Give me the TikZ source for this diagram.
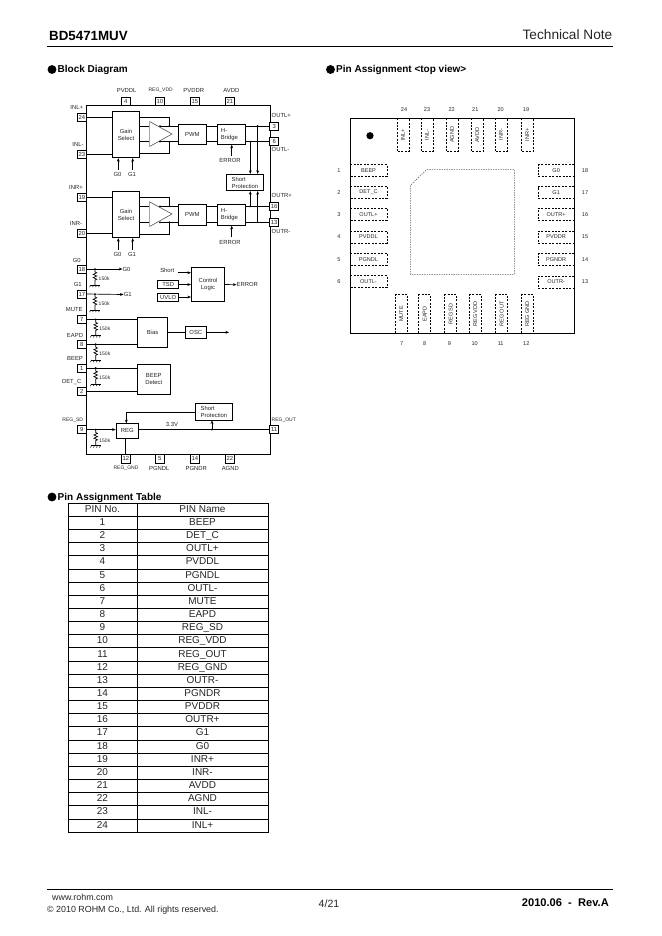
\documentclass[tikz,border=0pt]{standalone}
\usepackage{fontspec}
\setmainfont{Liberation Sans}
\usetikzlibrary{arrows.meta,calc}
\tikzset{
  every node/.style={font=\fontsize{5.3}{6.2}\selectfont,text=black!85,inner sep=0pt},
  wire/.style={line width=.6pt,black},
  arr/.style={wire,-{Stealth[length=3.2pt,width=2.6pt]}},
  dotm/.style={circle,fill=black,minimum size=1.8pt,inner sep=0pt},
  box/.style={draw=black,line width=.7pt,align=center,fill=white},
  pinbox/.style={draw=black,line width=.7pt,minimum width=8pt,minimum height=7.4pt,fill=white},
  tiny/.style={font=\fontsize{4.5}{5.4}\selectfont},
  head/.style={font=\fontsize{9}{11}\selectfont\bfseries,anchor=west,text=black},
  bull/.style={circle,fill=black,minimum size=8pt},
  cell/.style={draw=black,line width=.55pt,font=\fontsize{9}{10}\selectfont,text=black!85,minimum height=11.85pt,text height=6.5pt,text depth=1.7pt},
  pad/.style={minimum size=0pt,font=\fontsize{5}{6}\selectfont},
  edge/.style={line width=.7pt,black,dash pattern=on 1.8pt off 1.3pt},
  num/.style={font=\fontsize{5}{6}\selectfont},
}
\newcommand\resgnd[2]{% start coordinate, label y offset
  \draw[wire] (#1) -- ++(0,3) -- ++(1.8,.8) -- ++(-3.6,1.6) -- ++(3.6,1.6) -- ++(-3.6,1.6) -- ++(3.6,1.6) -- ++(-1.8,.8) -- ++(0,5) coordinate (#1g);
  \draw[wire] ($(#1g)+(-5,0)$) -- ($(#1g)+(5,0)$);
  \foreach \d in {-4,-1,2,5} \draw[line width=.4pt] ($(#1g)+(\d,0)$) -- ++(-1.5,2);
  \node[tiny,anchor=west] (#1k) at ($(#1)+(3.5,#2)$) {150k};
}
\newcommand\dotat[1]{\node[dotm] at (#1) {};}
\begin{document}
\begin{tikzpicture}[x=.9pt,y=-.9pt]
\useasboundingbox (0,0) rectangle (662,936);
\fill[white] (0,0) rectangle (662,936);
% header
\node[font=\fontsize{12}{14}\selectfont\bfseries,anchor=west,text=black] (title) at (49,35.5) {BD5471MUV};
\node[font=\fontsize{12.3}{14}\selectfont,anchor=east,text=black!85] (tn) at (612.5,35) {Technical Note};
\coordinate (hl) at (47,46.5); \coordinate (hr) at (613,46.5);
\draw[line width=1pt] (hl) -- (hr);
\node[bull] (b1) at (52,69.5) {}; \node[head] (h1) at (57.5,70) {Block Diagram};
\node[bull] (b2) at (330.5,69.5) {}; \node[head] (h2) at (336,69.8) {Pin Assignment <top view>};
\node[bull] (b3) at (52,497) {}; \node[head] (h3) at (57.5,498) {Pin Assignment Table};
% main frame
\node[draw=black,line width=.8pt,minimum width=165pt,minimum height=314.1pt,anchor=north west] (frame) at (86.3,105.3) {};
% top pins
\foreach \n/\x/\t/\lx in {4/125.8/PVDDL/126.7,15/194.8/PVDDR/193.7,21/229.8/AVDD/231.3}{
  \node[pinbox] (p\n) at (\x,101) {\n};
  \node (l\n) at (\lx,90) {\t};
}
\node[pinbox] (p10) at (159.8,101) {10};
\node[tiny] (l10) at (160.7,90.5) {REG\_VDD};
% bottom pins
\foreach \n/\x/\t/\lx in {5/159.8/PGNDL/159.3,14/194.8/PGNDR/196.3,22/229.8/AGND/230.3}{
  \node[pinbox] (p\n) at (\x,458.8) {\n};
  \node (l\n) at (\lx,468) {\t};
}
\node[pinbox] (p12) at (125.8,458.8) {12};
\node[tiny] (l12) at (126,468) {REG\_GND};
% left pins
\foreach \n/\y/\t/\lx/\ly in {24/117/INL+/76.7/107.3,23/154.5/INL-/78/144.3,19/197.4/INR+/76/187.3,20/233.7/INR-/76/223.3,18/269/G0/76.7/260,17/294/G1/77.7/284.3,7/319.5/MUTE/74.3/309.7,8/344.2/EAPD/75/335.7,1/368/BEEP/75/358.3,2/391.3/DET\_C/71.7/381.7}{
  \node[pinbox] (p\n) at (81.8,\y) {\n};
  \node (l\n) at (\lx,\ly) {\t};
}
\node[pinbox] (p9) at (81.8,429.6) {9};
\node[tiny] (l9) at (72.7,420.7) {REG\_SD};
% right pins
\foreach \n/\y/\t/\ly in {3/126/OUTL+/115.7,6/141.7/OUTL-/149.3,16/206.4/OUTR+/195.7,13/222.2/OUTR-/231.7}{
  \node[pinbox] (p\n) at (274.2,\y) {\n};
  \node[anchor=west] (l\n) at (271.5,\ly) {\t};
}
\node[pinbox] (p11) at (274.2,429.6) {11};
\node[tiny,anchor=west] (l11) at (271.5,420.7) {REG\_OUT};
% blocks upper channel
\node[box,minimum width=24.6pt,minimum height=41.8pt] (gainL) at (126,134.5) {Gain\\Select};
\node[box,minimum width=25.2pt,minimum height=18.3pt] (pwmL) at (192.3,134.2) {PWM};
\node[box,minimum width=25.5pt,minimum height=18.3pt,align=left,text width=19pt] (hbL) at (231.5,134.2) {H-\\Bridge};
\node[box,minimum width=24.6pt,minimum height=41.8pt] (gainR) at (126,214.5) {Gain\\Select};
\node[box,minimum width=25.2pt,minimum height=18.9pt] (pwmR) at (192.3,214.8) {PWM};
\node[box,minimum width=25.5pt,minimum height=18.9pt,align=left,text width=19pt] (hbR) at (231.5,214.8) {H-\\Bridge};
\node[box,minimum width=33.6pt,minimum height=14.8pt,align=left] (spA) at (245,182.5) {Short\\Protection};
% pin wires
\draw[wire] (p24.east) -- (gainL.west |- p24.east);
\draw[wire] (p23.east) -- (gainL.west |- p23.east);
\draw[wire] (p19.east) -- (gainR.west |- p19.east);
\draw[wire] (p20.east) -- (gainR.west |- p20.east);
% triangles
\coordinate (tLa) at (149.3,121.3); \coordinate (tLb) at (149.3,146.7); \coordinate (tLc) at (172,134);
\coordinate (tRa) at (149.3,201.7); \coordinate (tRb) at (149.3,226.7); \coordinate (tRc) at (172,214);
\draw[line width=.5pt,black!70] (tLa) -- (tLc) -- (tLb);
\draw[line width=.5pt,black!70] (tRa) -- (tRc) -- (tRb);
\draw[line width=1pt,black!35] (tLa) -- (tLb) (tRa) -- (tRb);
% channel wires
\foreach \g/\p/\h/\ya/\yb/\yt/\yu in {gainL/pwmL/hbL/126/141.7/117.6/153,gainR/pwmR/hbR/206.3/222.3/197.3/234}{
  \draw[wire] (\g.east |- 0,\ya) -- (149.3,\ya);
  \draw[wire] (\g.east |- 0,\yb) -- (149.3,\yb);
  \draw[wire] (160,\ya) -- (\p.west |- 0,\ya);
  \draw[wire] (160,\yb) -- (\p.west |- 0,\yb);
  \draw[wire] (\g.east |- 0,\yt) -| (169.4,\ya);
  \draw[wire] (\g.east |- 0,\yu) -| (169.4,\yb);
  \draw[wire] (\p.east |- 0,\ya) -- (\h.west |- 0,\ya);
  \draw[wire] (\p.east |- 0,\yb) -- (\h.west |- 0,\yb);
  \dotat{169.4,\ya} \dotat{169.4,\yb} \dotat{160,\ya} \dotat{160,\yb}
}
% outputs
\draw[wire] (hbL.east |- p3.west) -- (p3.west);
\draw[wire] (hbL.east |- p6.west) -- (p6.west);
\draw[wire] (hbR.east |- p16.west) -- (p16.west);
\draw[wire] (hbR.east |- p13.west) -- (p13.west);
\coordinate (sa) at (250.3,141.7); \coordinate (sb) at (257.7,126);
\coordinate (sc) at (250.3,206.4); \coordinate (sd) at (257.7,222.2);
\dotat{sa} \dotat{sb} \dotat{sc} \dotat{sd}
\draw[arr] (sa) -- (sa |- spA.north);
\draw[arr] (sb) -- (sb |- spA.north);
\draw[arr] (sc) -- (sc |- spA.south);
\draw[arr] (sd) -- (sd |- spA.south);
% G0 G1 under gain
\node (g0a) at (117.5,174.3) {G0}; \node (g1a) at (132,174.3) {G1};
\node (g0b) at (117.5,254.5) {G0}; \node (g1b) at (132,254.5) {G1};
\draw[arr] (118.3,170) -- (118.3,0 |- gainL.south);
\draw[arr] (132.7,170) -- (132.7,0 |- gainL.south);
\draw[arr] (118.3,250) -- (118.3,0 |- gainR.south);
\draw[arr] (132.7,250) -- (132.7,0 |- gainR.south);
% ERROR under bridges
\node (e1) at (230,160.3) {ERROR}; \node (e2) at (230,242.3) {ERROR};
\draw[arr] (231.7,155.5) -- (231.7,0 |- hbL.south);
\draw[arr] (231.7,237) -- (231.7,0 |- hbR.south);
% G0/G1 logic
\coordinate (j18) at (95,269); \coordinate (j17) at (95,294);
\coordinate (j7) at (95.7,319.4); \coordinate (j8) at (95.7,344.2);
\coordinate (j1) at (95.7,368); \coordinate (j9) at (95.7,429.6);
\node (tg0) at (126.5,269) {G0}; \node (tg1) at (127.7,294.5) {G1};
\draw[arr] (p18.east) -- (tg0.west);
\draw[arr] (p17.east) -- (tg1.west);
\dotat{j18} \dotat{j17} \dotat{j7} \dotat{j8} \dotat{j1} \dotat{j9}
\resgnd{j18}{9.5}
\resgnd{j17}{9.5}
\resgnd{j7}{9.5}
\resgnd{j8}{10}
\resgnd{j1}{10}
\resgnd{j9}{11}
% control logic
\node[box,minimum width=30pt,minimum height=31pt] (ctl) at (208,284.5) {Control\\Logic};
\node (sh) at (167.3,270.7) {Short};
\node[box,minimum width=18.9pt,minimum height=7.4pt] (tsd) at (168.2,284.5) {TSD};
\node[box,minimum width=18.9pt,minimum height=7.2pt] (uvlo) at (168.2,297) {UVLO};
\draw[arr] (178.3,272.7) -- (ctl.west |- 0,272.7);
\draw[arr] (tsd.east) -- (ctl.west |- tsd.east);
\draw[arr] (uvlo.east) -- (ctl.west |- uvlo.east);
\node[anchor=west] (err) at (236.5,284.7) {ERROR};
\draw[arr] (ctl.east) -- (err.west);
% bias, osc, beep
\node[box,minimum width=27.4pt,minimum height=27pt] (bias) at (152.5,332.3) {Bias};
\node[box,minimum width=18.9pt,minimum height=10.8pt] (osc) at (195.8,332.3) {OSC};
\coordinate (oe) at (229,332.3);
\draw[wire] (bias.east) -- (osc.west);
\draw[arr] (osc.east) -- (oe);
\node[box,minimum width=29.7pt,minimum height=27pt] (bd) at (153.8,379.3) {BEEP\\Detect};
\draw[wire] (p7.east) -- (bias.west |- p7.east);
\draw[wire] (p8.east) -- (bias.west |- p8.east);
\draw[wire] (p1.east) -- (bd.west |- p1.east);
\draw[wire] (p2.east) -- (bd.west |- p2.east);
% REG
\node[box,minimum width=20.1pt,minimum height=13.5pt] (reg) at (127.2,430.8) {REG};
\node[box,minimum width=33.6pt,minimum height=15pt,align=left] (spB) at (214,411.7) {Short\\Protection};
\draw[arr] (p9.east) -- (reg.west |- p9.east);
\draw[wire] (reg.east |- p11.west) -- (p11.west);
\node (v33) at (172,424.5) {3.3V};
\coordinate (jr) at (212,429.6); \dotat{jr}
\draw[arr] (jr) -- (jr |- spB.south);
\draw[arr] (spB.west |- 0,412.7) -| (126.3,423.3);
\draw[wire] (reg.south -| p12.north) -- (p12.north);
% pin assignment
\node[draw=black,line width=.8pt,minimum width=201.3pt,minimum height=193.6pt,anchor=north west] (pkg) at (350.3,118.2) {};
\node[circle,fill=black,minimum size=6.5pt] (pin1) at (370,135.7) {};
\coordinate (ep1) at (427,169.3); \coordinate (ep2) at (514.3,169.3); \coordinate (ep3) at (514.3,274.3); \coordinate (ep4) at (410.3,274.3); \coordinate (ep5) at (410.3,185.3);
\draw[line width=.5pt,black!65,dash pattern=on 1.2pt off 1pt] (ep1) -- (ep2) -- (ep3) -- (ep4) -- (ep5) -- cycle;
\foreach \n/\y/\t in {1/170.7/BEEP,2/192.3/DET\_C,3/214.3/OUTL+,4/237/PVDDL,5/259.3/PGNDL,6/281.7/OUTL-}{
  \node[pad,minimum width=32.8pt,minimum height=10.2pt] (a\n) at (368.5,\y) {\t};
  \draw[edge] (a\n.north west) -- (a\n.north east) -- (a\n.south east) -- (a\n.south west);
  \node[num] (an\n) at (339,\y) {\n};
}
\foreach \n/\y/\t in {18/170.7/G0,17/192.6/G1,16/214.3/OUTR+,15/237/PVDDR,14/259.7/PGNDR,13/282/OUTR-}{
  \node[pad,minimum width=32.1pt,minimum height=10.2pt] (a\n) at (556.15,\y) {\t};
  \draw[edge] (a\n.north east) -- (a\n.north west) -- (a\n.south west) -- (a\n.south east);
  \node[num] (an\n) at (585,\y) {\n};
}
\foreach \n/\x/\lx/\t in {24/403/404/INL+,23/427/427/INL-,22/452/451.7/AGND,21/477.3/475.3/AVDD,20/501/500.7/INR-,19/527.3/526/INR+}{
  \node[pad,minimum width=10.5pt,minimum height=29.7pt] (a\n) at (\x,134.8) {\rotatebox{90}{\t}};
  \draw[edge] (a\n.north west) -- (a\n.south west) -- (a\n.south east) -- (a\n.north east);
  \node[num] (an\n) at (\lx,109.7) {\n};
}
\foreach \n/\x/\lx/\t in {7/401.3/401.7/MUTE,8/424.7/424.7/EAPD,9/450.7/449.3/REG SD,10/475.3/474.7/REG VDD,11/501.7/500.7/REG OUT,12/527.3/526.3/REG GND}{
  \node[pad,minimum width=10.5pt,minimum height=34.2pt] (a\n) at (\x,314) {\rotatebox{90}{\t}};
  \draw[edge] (a\n.south west) -- (a\n.north west) -- (a\n.north east) -- (a\n.south east);
  \node[num] (an\n) at (\lx,343.3) {\n};
}
% table
\node[cell,minimum width=62.1pt,anchor=center] (th1) at (102.5,509.6) {PIN No.};
\node[cell,minimum width=117.9pt,anchor=center] (th2) at (202.5,509.6) {PIN Name};
\foreach \n/\t [evaluate=\n as \yy using 509.6+13.16*\n] in {1/BEEP,2/DET\_C,3/OUTL+,4/PVDDL,5/PGNDL,6/OUTL-,7/MUTE,8/EAPD,9/REG\_SD,10/REG\_VDD,11/REG\_OUT,12/REG\_GND,13/OUTR-,14/PGNDR,15/PVDDR,16/OUTR+,17/G1,18/G0,19/INR+,20/INR-,21/AVDD,22/AGND,23/INL-,24/INL+}{
  \node[cell,minimum width=62.1pt] (tc\n) at (102.5,\yy) {\n};
  \node[cell,minimum width=117.9pt] (tn\n) at (202.5,\yy) {\t};
}
% footer
\coordinate (fl) at (47,889.5); \coordinate (fr) at (613,889.5);
\draw[line width=.8pt] (fl) -- (fr);
\node[font=\fontsize{8}{9}\selectfont,anchor=west] (f1) at (52,897) {www.rohm.com};
\node[font=\fontsize{8}{9}\selectfont,anchor=west] (f2) at (47,910.5) {© 2010 ROHM Co., Ltd. All rights reserved.};
\node[font=\fontsize{9.5}{11}\selectfont] (f3) at (329,904) {4/21};
\node[font=\fontsize{10}{11}\selectfont\bfseries,anchor=east,text=black] (f4) at (609,903) {2010.06\ \ -\ \ Rev.A};
\end{tikzpicture}
\end{document}
